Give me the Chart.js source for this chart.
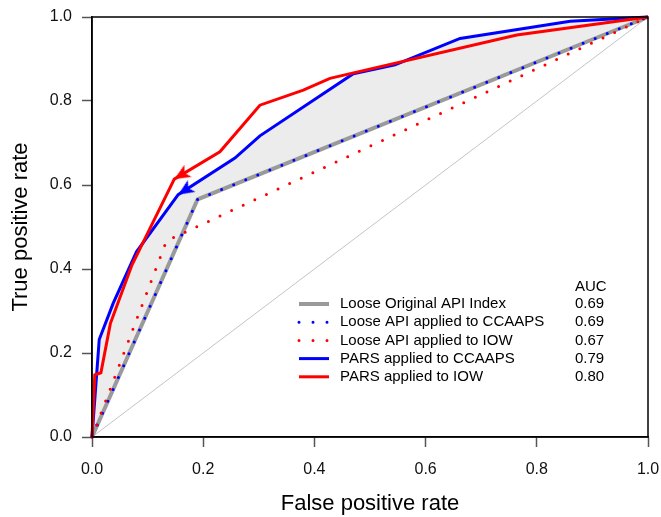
<!DOCTYPE html>
<html>
<head>
<meta charset="utf-8">
<script src="https://cdn.jsdelivr.net/npm/chart.js@4/dist/chart.umd.min.js"></script>
<style>
  html, body { margin: 0; padding: 0; background: #fff; }
  #roc { display: block; }
</style>
</head>
<body>
<canvas id="roc" width="661" height="517"></canvas>
<script>
// ROC curves, values
var fprLooseOrig = [0, 0.19, 1];
var tprLooseOrig = [0, 0.566, 1];

var fprLooseCcaaps = [0, 0.19, 1];
var tprLooseCcaaps = [0, 0.566, 1];

var fprLooseIow = [0, 0.134, 1];
var tprLooseIow = [0, 0.467, 1];

var fprParsCcaaps = [0, 0.013, 0.038, 0.080, 0.155, 0.257, 0.302, 0.470, 0.545, 0.662, 0.860, 1];
var tprParsCcaaps = [0, 0.232, 0.318, 0.441, 0.577, 0.664, 0.717, 0.865, 0.886, 0.949, 0.990, 1];

var fprParsIow = [0, 0.005, 0.016, 0.033, 0.072, 0.148, 0.230, 0.302, 0.380, 0.428, 0.764, 1];
var tprParsIow = [0, 0.148, 0.153, 0.270, 0.410, 0.614, 0.679, 0.790, 0.826, 0.854, 0.957, 1];

// threshold marked with an arrow head
var arrowIdxCcaaps = 4;
var arrowIdxIow = 5;

var chanceLine = [0, 1];

var seriesNames = [
	'Loose Original API Index',
	'Loose API applied to CCAAPS',
	'Loose API applied to IOW',
	'PARS applied to CCAAPS',
	'PARS applied to IOW'
];
var aucValues = ['0.69', '0.69', '0.67', '0.79', '0.80'];

var xTicks = [0, 0.2, 0.4, 0.6, 0.8, 1.0];
var yTicks = [0, 0.2, 0.4, 0.6, 0.8, 1.0];

var FONT = "'Liberation Sans', Arial, sans-serif";

function pts(xs, ys) {
	var out = [];
	for (var i in xs) out.push({x: xs[i], y: ys[i]});
	return out;
}

// arrow head whose tip sits at the canvas centre, pointing up
function arrowHead(color) {
	var c = document.createElement('canvas');
	c.width = 40; c.height = 40;
	var g = c.getContext('2d');
	g.fillStyle = color;
	g.beginPath();
	g.moveTo(20, 20);
	g.lineTo(27, 36);
	g.lineTo(20, 32);
	g.lineTo(13, 36);
	g.closePath();
	g.fill();
	return c;
}

function arrowRotation(xs, ys, i) {
	return function(ctx) {
		var sx = ctx.chart.scales.x, sy = ctx.chart.scales.y;
		var dx = sx.getPixelForValue(xs[i]) - sx.getPixelForValue(xs[i + 1]);
		var dy = sy.getPixelForValue(ys[i]) - sy.getPixelForValue(ys[i + 1]);
		return Math.atan2(dx, -dy) * 180 / Math.PI;
	};
}

// shaded band between PARS/CCAAPS and the loose index curve
var bandPoints = pts(fprParsCcaaps, tprParsCcaaps)
	.concat(pts(fprLooseOrig, tprLooseOrig).reverse());

var datasets = [
	{
		label: seriesNames[4],
		data: pts(fprParsIow, tprParsIow),
		borderColor: '#ff0000',
		borderWidth: 3,
		pointStyle: arrowHead('#ff0000'),
		pointRadius: function(c) { return c.dataIndex === arrowIdxIow ? 8 : 0; },
		rotation: arrowRotation(fprParsIow, tprParsIow, arrowIdxIow),
		order: 0
	},
	{
		label: seriesNames[3],
		data: pts(fprParsCcaaps, tprParsCcaaps),
		borderColor: '#0000ff',
		borderWidth: 3,
		pointStyle: arrowHead('#0000ff'),
		pointRadius: function(c) { return c.dataIndex === arrowIdxCcaaps ? 8 : 0; },
		rotation: arrowRotation(fprParsCcaaps, tprParsCcaaps, arrowIdxCcaaps),
		order: 1
	},
	{
		label: seriesNames[2],
		data: pts(fprLooseIow, tprLooseIow),
		borderColor: '#ff0000',
		borderWidth: 3,
		borderDash: [0, 12.8],
		borderCapStyle: 'round',
		pointRadius: 0,
		order: 2
	},
	{
		label: seriesNames[1],
		data: pts(fprLooseCcaaps, tprLooseCcaaps),
		borderColor: '#0000ff',
		borderWidth: 3,
		borderDash: [0, 13],
		borderCapStyle: 'round',
		pointRadius: 0,
		order: 3
	},
	{
		label: seriesNames[0],
		data: pts(fprLooseOrig, tprLooseOrig),
		borderColor: '#9a9a9a',
		borderWidth: 4,
		pointRadius: 0,
		order: 4
	},
	{
		label: 'chance',
		data: pts(chanceLine, chanceLine),
		borderColor: '#c4c4c4',
		borderWidth: 1,
		pointRadius: 0,
		order: 5
	},
	{
		label: 'band',
		data: bandPoints,
		borderWidth: 0,
		borderColor: 'rgba(0,0,0,0)',
		backgroundColor: '#ececec',
		fill: 'shape',
		pointRadius: 0,
		order: 6
	}
];

// legend drawn inside the plot, R style, with an AUC column
var legendEntries = [4, 3, 2, 1, 0];
var rocLegend = {
	id: 'rocLegend',
	afterDatasetsDraw: function(chart) {
		var ctx = chart.ctx;
		ctx.save();
		ctx.font = '15px ' + FONT;
		ctx.fillStyle = '#000';
		ctx.textBaseline = 'middle';
		ctx.textAlign = 'left';
		ctx.fillText('AUC', 575, 287);
		for (var i = 0; i < legendEntries.length; i++) {
			var ds = chart.data.datasets[legendEntries[i]];
			var y = 304 + i * 18.2;
			ctx.beginPath();
			ctx.strokeStyle = ds.borderColor;
			ctx.lineWidth = ds.borderWidth;
			ctx.lineCap = ds.borderDash ? 'round' : 'butt';
			ctx.setLineDash(ds.borderDash ? [0, 14] : []);
			ctx.moveTo(299, y);
			ctx.lineTo(ds.borderDash ? 328 : 329, y);
			ctx.stroke();
			ctx.setLineDash([]);
			ctx.fillText(seriesNames[i], 340, y);
			ctx.fillText(aucValues[i], 575, y);
		}
		ctx.restore();
	},
	afterDraw: function(chart) {
		var a = chart.chartArea, ctx = chart.ctx;
		ctx.save();
		ctx.strokeStyle = '#000';
		ctx.lineWidth = 1.5;
		ctx.strokeRect(a.left, a.top, a.right - a.left, a.bottom - a.top);
		ctx.restore();
	}
};

function noPad(scale) {
	scale.paddingLeft = 0; scale.paddingRight = 0;
	scale.paddingTop = 0; scale.paddingBottom = 0;
}

new Chart(document.getElementById('roc'), {
	type: 'line',
	data: { datasets: datasets },
	plugins: [rocLegend],
	options: {
		responsive: false,
		animation: false,
		events: [],
		clip: 4,
		layout: { padding: { top: 17, right: 13, left: 0, bottom: 0 } },
		elements: { line: { tension: 0, fill: false } },
		plugins: { legend: { display: false }, tooltip: { enabled: false } },
		scales: {
			x: {
				type: 'linear',
				min: 0, max: 1,
				afterBuildTicks: function(s) { s.ticks = xTicks.map(function(v) { return {value: v}; }); },
				afterFit: function(s) { s.height = 80; noPad(s); },
				grid: { drawOnChartArea: false, drawTicks: true, tickLength: 10, tickColor: '#555', tickWidth: 1.5 },
				border: { display: true, color: '#000', width: 1.5 },
				ticks: {
					autoSkip: false, maxRotation: 0, padding: 13,
					color: '#111', font: { family: FONT, size: 16 },
					callback: function(v) { return Number(v).toFixed(1); }
				},
				title: {
					display: true, text: 'False positive rate', color: '#000',
					font: { family: FONT, size: 22 }, padding: { top: 0, bottom: 0 }
				}
			},
			y: {
				type: 'linear',
				min: 0, max: 1,
				afterBuildTicks: function(s) { s.ticks = yTicks.map(function(v) { return {value: v}; }); },
				afterFit: function(s) { s.width = 92; noPad(s); },
				grid: { drawOnChartArea: false, drawTicks: true, tickLength: 10, tickColor: '#555', tickWidth: 1.5 },
				border: { display: true, color: '#000', width: 1.5 },
				ticks: {
					autoSkip: false, padding: 10,
					color: '#111', font: { family: FONT, size: 16 },
					callback: function(v) { return Number(v).toFixed(1); }
				},
				title: {
					display: true, text: 'True positive rate', color: '#000',
					font: { family: FONT, size: 22 }, padding: { top: 8, bottom: 8 }
				}
			}
		}
	}
});
</script>
</body>
</html>
